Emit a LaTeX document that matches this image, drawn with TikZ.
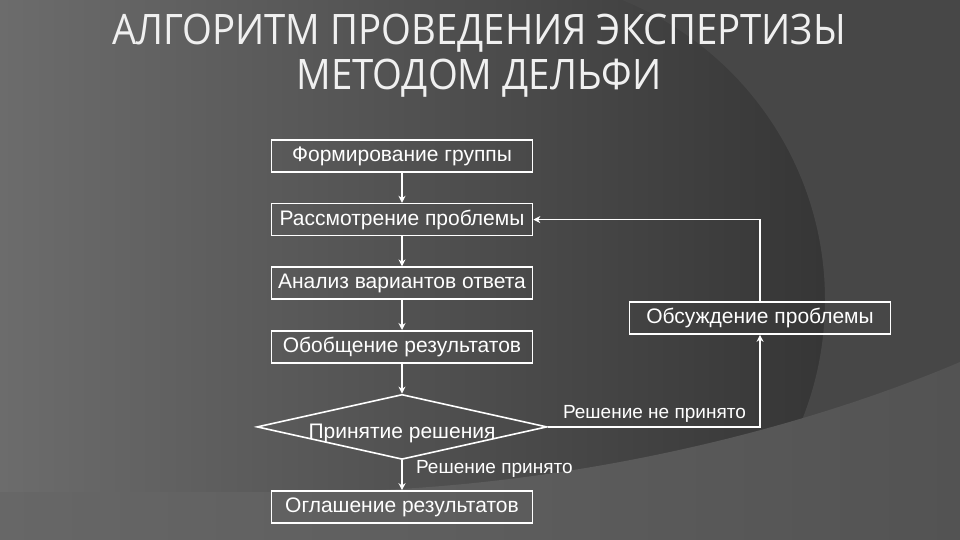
\documentclass[tikz,border=0pt]{standalone}
\usepackage{fontspec}
\setmainfont{Liberation Sans}
\newfontfamily\titlefont{Open Sans}
\usetikzlibrary{positioning,shapes.geometric,arrows.meta}
\definecolor{bgleft}{HTML}{6C6C6C}
\definecolor{bgmid}{HTML}{333333}
\definecolor{bgright}{HTML}{2D2D2D}
\definecolor{bgouter}{HTML}{474747}
\definecolor{bandleft}{HTML}{676767}
\definecolor{bandright}{HTML}{535353}
\definecolor{titlegray}{HTML}{F0F0F0}

\begin{document}
\begin{tikzpicture}[x=1pt, y=-1pt,
      node distance=30pt,
      stage/.style = {shape=rectangle, draw=white, line width=1.6pt, minimum width=261pt, minimum height=32pt, inner sep=0pt, text=white, font=\fontsize{21}{24}\selectfont},
      decision/.style = {shape=diamond, draw=white, line width=1.6pt, aspect=4.4, minimum width=290pt, minimum height=65pt, inner sep=0pt, text=white, font=\fontsize{21}{24}\selectfont},
      remark/.style = {text=white, font=\fontsize{19}{22}\selectfont},
      flow/.style = {draw=white, line width=1.6pt, -{Stealth[length=7pt,width=7pt]}},
      heading/.style = {text=titlegray, font=\titlefont\fontsize{42}{45}\selectfont}
    ]
      % background
      \useasboundingbox (0,0) rectangle (960,540);
      \shade[left color=bgleft, middle color=bgmid, right color=bgright] (0,0) rectangle (960,540);
      \begin{scope}
        \clip (560,0) rectangle (960,540);
        \fill[even odd rule, bgouter] (560,-10) rectangle (970,550) (502,300) circle (323pt);
      \end{scope}
      \shade[left color=bandleft, right color=bandright] (0,492) -- (300,492)
        .. controls (560,492) and (800,430) .. (960,362) -- (960,540) -- (0,540) -- cycle;

      % title
      \node[heading] (title) at (479,33) {\scalebox{0.913}[1]{АЛГОРИТМ ПРОВЕДЕНИЯ ЭКСПЕРТИЗЫ}};
      \node[heading] (subtitle) at (479,78) {\scalebox{0.913}[1]{МЕТОДОМ ДЕЛЬФИ}};

      % steps
      \node[stage] (group) at (402,156) {Формирование группы};
      \node[stage, below=of group] (review) {Рассмотрение проблемы};
      \node[stage, below=of review] (analysis) {Анализ вариантов ответа};
      \node[stage, below=of analysis] (summary) {Обобщение результатов};
      \node[decision, below=of summary] (decide) {\raisebox{-12pt}[0pt][0pt]{Принятие решения}};
      \node[stage, below=of decide] (announce) {Оглашение результатов};
      \node[stage] (discuss) at (760,318) {Обсуждение проблемы};

      \draw[flow] (group) -- (review);
      \draw[flow] (review) -- (analysis);
      \draw[flow] (analysis) -- (summary);
      \draw[flow] (summary) -- (decide);
      \draw[flow] (decide) -- node[remark, right, pos=0.3, xshift=10pt] {Решение принято} (announce);
      \draw[flow] (decide.east) -| node[remark, above left, pos=0.5, xshift=-10pt] {Решение не принято} (discuss.south);
      \draw[flow] (discuss.north) |- (review.east);
    \end{tikzpicture}
\end{document}
